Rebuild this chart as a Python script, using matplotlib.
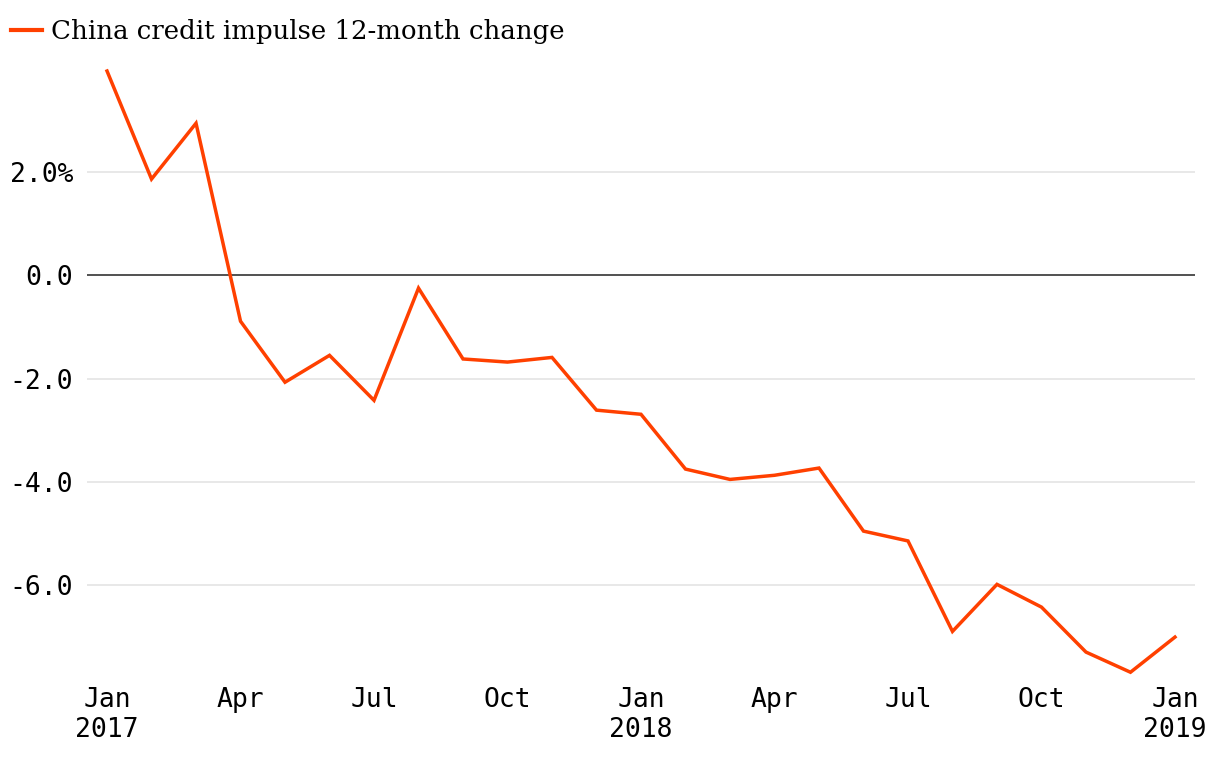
import matplotlib
matplotlib.use("Agg")
import matplotlib.pyplot as plt

months = ["Jan\n2017", "Feb", "Mar", "Apr", "May", "Jun", "Jul", "Aug", "Sep", "Oct", "Nov", "Dec",
          "Jan\n2018", "Feb", "Mar", "Apr", "May", "Jun", "Jul", "Aug", "Sep", "Oct", "Nov", "Dec",
          "Jan\n2019"]
values = [3.95, 1.86, 2.94, -0.89, -2.07, -1.55, -2.42, -0.25, -1.62, -1.68, -1.59, -2.61,
          -2.69, -3.75, -3.95, -3.87, -3.73, -4.95, -5.14, -6.89, -5.98, -6.42, -7.29, -7.68,
          -7.00]
series_name = "China credit impulse 12-month change"
yticks = [-6, -4, -2, 0, 2]
ytick_labels = ["-6.0", "-4.0", "-2.0", "0.0", "2.0%"]
xtick_idx = [0, 3, 6, 9, 12, 15, 18, 21, 24]

W, H = 1220, 766
fig = plt.figure(figsize=(W / 100, H / 100), dpi=100)
ax = fig.add_axes([87 / W, 1 - 680 / H, (1195 - 87) / W, (680 - 55) / H])

x = list(range(len(values)))
color = "#ff4000"
ax.plot(x, values, color=color, lw=2.5, solid_joinstyle="miter", zorder=3, label=series_name)

ax.set_xlim(-0.45, 24.45)
ax.set_ylim(-7.83, 4.26)
for t in yticks:
    if t == 0:
        ax.axhline(0, color="#222222", lw=1.1, zorder=2)
    else:
        ax.axhline(t, color="#e2e2e2", lw=1.1, zorder=1)

mono = "DejaVu Sans Mono"
ax.set_yticks(yticks)
ax.set_yticklabels(ytick_labels, family=mono, fontsize=19)
ax.set_xticks(xtick_idx)
ax.set_xticklabels([months[i] for i in xtick_idx], family=mono, fontsize=19, linespacing=1.2)
ax.tick_params(axis="y", length=0, pad=10)
ax.tick_params(axis="x", length=0, pad=5)
for s in ax.spines.values():
    s.set_visible(False)

leg = fig.legend(handles=ax.get_lines(), labels=[series_name], loc="upper left",
                 bbox_to_anchor=(6 / W, 1 - 14 / H), frameon=False,
                 prop={"family": "DejaVu Serif", "size": 18.7},
                 handlelength=1.2, handletextpad=0.35, borderaxespad=0, borderpad=0.2)
leg.get_lines()[0].set_linewidth(3)

fig.savefig("out.png", dpi=100)
